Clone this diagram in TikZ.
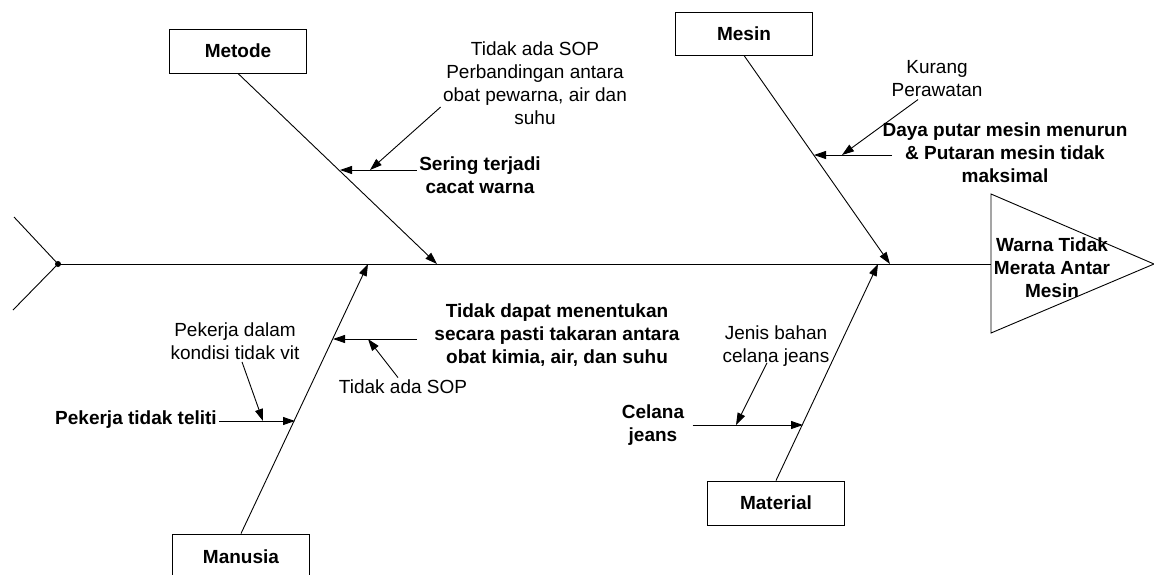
\documentclass[tikz,border=0pt]{standalone}
\usepackage{fontspec}
\setmainfont{Liberation Sans}
\usetikzlibrary{arrows.meta}

\begin{document}
\fontsize{19}{23}\selectfont
\begin{tikzpicture}[
  x=1pt, y=-1pt,
  line width=0.9pt,
  category/.style={rectangle, draw, minimum width=137pt, minimum height=44pt, font=\bfseries},
  cause/.style={align=center, inner sep=2pt},
  maincause/.style={align=center, inner sep=2pt, font=\bfseries},
  arrowstyle/.style={-{Triangle[length=12pt,width=8pt]}}
]
\useasboundingbox (0,0) rectangle (1154,574);

% head and spine
\coordinate (tail) at (58,264);
\coordinate (tailUp) at (14,217);
\coordinate (tailDown) at (13,310);
\coordinate (headTop) at (991,194);
\coordinate (headTip) at (1154,264);
\coordinate (headBot) at (991,333);
\coordinate (headL) at (991,264);

\draw (headTop) -- (headTip) -- (headBot) -- cycle;
\node[maincause] (effect) at (1052,268) {Warna Tidak\\Merata Antar\\Mesin};
\draw (tail) -- (headL);
\draw (tailUp) -- (tail) -- (tailDown);
\fill (tail) circle (3pt);

% categories
\node[category] (metode) at (238,51) {Metode};
\node[category, minimum height=43pt] (mesin) at (744,33.5) {Mesin};
\node[category, minimum height=46pt] (manusia) at (241,557) {Manusia};
\node[category] (material) at (776,503) {Material};

\coordinate (metodeT) at (437,264);
\coordinate (mesinT) at (890,264);
\coordinate (manusiaT) at (368,264);
\coordinate (materialT) at (878,264);

\draw[arrowstyle] (metode.south) -- (metodeT);
\draw[arrowstyle] (mesin.south) -- (mesinT);
\draw[arrowstyle] (manusia.north) -- (manusiaT);
\draw[arrowstyle] (material.north) -- (materialT);

% causes
\node[cause] (sop1) at (535,83) {Tidak ada SOP\\Perbandingan antara\\obat pewarna, air dan\\suhu};
\node[maincause] (sering) at (480,175) {Sering terjadi\\cacat warna};
\node[cause] (kurang) at (937,79) {Kurang\\Perawatan};
\node[maincause] (daya) at (1005,153) {Daya putar mesin menurun\\\& Putaran mesin tidak\\maksimal};
\node[maincause] (takaran) at (557,335) {Tidak dapat menentukan\\secara pasti takaran antara\\obat kimia, air, dan suhu};
\node[cause] (sop2) at (403,387) {Tidak ada SOP};
\node[cause] (vit) at (235,341) {Pekerja dalam\\kondisi tidak vit};
\node[maincause] (teliti) at (136,420) {Pekerja tidak teliti};
\node[cause] (jenis) at (776,346) {Jenis bahan\\celana jeans};
\node[maincause] (celana) at (653,425) {Celana\\jeans};

% points on the bones
\coordinate (metodeJ) at (340,170);
\coordinate (mesinJ) at (814,155);
\coordinate (manusiaJ1) at (295,421);
\coordinate (manusiaJ2) at (333,339);
\coordinate (materialJ) at (803,425);

% points on the cause arrows
\coordinate (metodeK) at (370,170);
\coordinate (mesinK) at (842,155);
\coordinate (manusiaK1) at (263,421);
\coordinate (manusiaK2) at (368,339);
\coordinate (materialK) at (736,425);

\draw[arrowstyle] (sering.west |- metodeJ) -- (metodeJ);
\draw[arrowstyle] ([xshift=12pt]daya.west |- mesinJ) -- (mesinJ);
\draw[arrowstyle] (teliti.east |- manusiaJ1) -- (manusiaJ1);
\draw[arrowstyle] ([xshift=-15pt]takaran.west |- manusiaJ2) -- (manusiaJ2);
\draw[arrowstyle] ([xshift=6pt]celana.east |- materialJ) -- (materialJ);

\draw[arrowstyle] ([yshift=-24pt]sop1.west) -- (metodeK);
\draw[arrowstyle] ([xshift=-19pt]kurang.south) -- (mesinK);
\draw[arrowstyle] ([xshift=7pt]vit.south) -- (manusiaK1);
\draw[arrowstyle] ([xshift=-5pt]sop2.north) -- (manusiaK2);
\draw[arrowstyle] ([xshift=-9pt,yshift=6pt]jenis.south) -- (materialK);

\end{tikzpicture}
\end{document}
